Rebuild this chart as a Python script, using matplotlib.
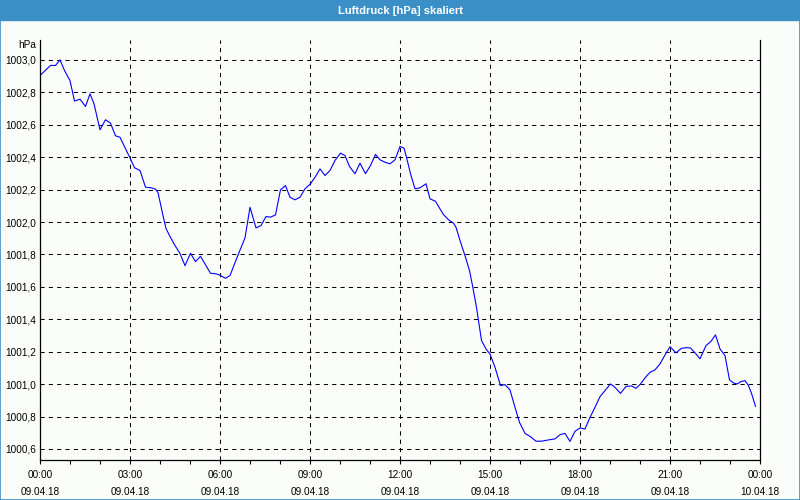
import numpy as np
import pandas as pd
import matplotlib
matplotlib.use("Agg")
from matplotlib import pyplot as plt
from matplotlib.patches import Rectangle
from matplotlib.lines import Line2D

plt.rcParams['font.family'] = ['Liberation Sans', 'DejaVu Sans']

title = "Luftdruck [hPa] skaliert"
unit = "hPa"
start = pd.Timestamp("2018-04-09 00:00")

# minutes after 09.04.18 00:00
minutes = [0, 21, 31, 40, 49, 60, 69, 80, 91, 100, 108, 120, 131, 141, 151, 160,
           171, 180, 189, 200, 211, 223, 231, 236, 246, 252, 260, 270, 280, 290,
           301, 311, 321, 332, 341, 353, 361, 371, 380, 397, 410, 420, 432, 442,
           452, 461, 471, 481, 491, 500, 510, 520, 530, 541, 551, 560, 570, 580,
           590, 601, 610, 619, 630, 640, 651, 661, 671, 680, 690, 700, 710, 720,
           728, 733, 741, 750, 760, 772, 780, 791, 800, 807, 817, 827, 832, 840,
           850, 859, 865, 873, 879, 883, 892, 900, 910, 921, 930, 940, 950, 959,
           970, 981, 992, 1003, 1017, 1030, 1040, 1050, 1060, 1070, 1080, 1090,
           1100, 1110, 1120, 1130, 1141, 1150, 1161, 1172, 1183, 1192, 1201, 1211,
           1220, 1230, 1240, 1250, 1260, 1272, 1283, 1293, 1301, 1312, 1320, 1332,
           1342, 1351, 1360, 1370, 1379, 1387, 1395, 1401, 1410, 1417, 1423, 1431]

pressure = [1002.904, 1002.966, 1002.966, 1003.000, 1002.935, 1002.873, 1002.746,
            1002.758, 1002.713, 1002.791, 1002.730, 1002.569, 1002.631, 1002.610,
            1002.532, 1002.523, 1002.452, 1002.396, 1002.335, 1002.318, 1002.215,
            1002.211, 1002.202, 1002.182, 1002.040, 1001.960, 1001.911, 1001.855,
            1001.806, 1001.731, 1001.807, 1001.756, 1001.789, 1001.731, 1001.684,
            1001.680, 1001.670, 1001.653, 1001.670, 1001.804, 1001.902, 1002.091,
            1001.964, 1001.978, 1002.034, 1002.030, 1002.044, 1002.199, 1002.225,
            1002.153, 1002.137, 1002.153, 1002.205, 1002.236, 1002.281, 1002.328,
            1002.287, 1002.318, 1002.380, 1002.425, 1002.410, 1002.343, 1002.298,
            1002.363, 1002.298, 1002.349, 1002.417, 1002.384, 1002.369, 1002.359,
            1002.384, 1002.466, 1002.456, 1002.400, 1002.298, 1002.205, 1002.211,
            1002.236, 1002.143, 1002.128, 1002.081, 1002.046, 1002.014, 1001.993,
            1001.968, 1001.886, 1001.793, 1001.701, 1001.608, 1001.474, 1001.351,
            1001.269, 1001.217, 1001.186, 1001.104, 1000.991, 1000.997, 1000.964,
            1000.857, 1000.764, 1000.696, 1000.676, 1000.648, 1000.648, 1000.656,
            1000.662, 1000.688, 1000.696, 1000.647, 1000.709, 1000.730, 1000.723,
            1000.795, 1000.857, 1000.923, 1000.960, 1001.001, 1000.980, 1000.943,
            1000.986, 1000.989, 1000.974, 1001.001, 1001.042, 1001.073, 1001.088,
            1001.125, 1001.180, 1001.231, 1001.193, 1001.221, 1001.225, 1001.223,
            1001.186, 1001.156, 1001.238, 1001.264, 1001.304, 1001.217, 1001.176,
            1001.026, 1001.007, 1001.001, 1001.015, 1001.022, 1000.991, 1000.943,
            1000.863]

y_ticks = [1000.6, 1000.8, 1001.0, 1001.2, 1001.4, 1001.6, 1001.8,
           1002.0, 1002.2, 1002.4, 1002.6, 1002.8, 1003.0]

times = start + pd.to_timedelta(minutes, unit="m")
major = pd.date_range(start, periods=9, freq="3h")
minor = pd.date_range(start, periods=25, freq="1h")

bg = "#fbfdfb"
frame_blue = "#3b8fc7"

fig = plt.figure(figsize=(8, 5), dpi=100, facecolor=bg)
ax = fig.add_axes([0.05, 0.08, 0.90, 0.84], facecolor=bg)

ax.plot(times, pressure, color="#0000ff", lw=0.8)

ax.set_xlim(start, start + pd.Timedelta(hours=24))
ax.set_ylim(1000.532, 1003.123)

ax.set_xticks(major)
ax.set_xticks(minor, minor=True)
ax.set_xticklabels([t.strftime("%H:%M\n%d.%m.%y") for t in major],
                   linespacing=1.85, fontsize=7.2)
ax.set_yticks(y_ticks)
ax.set_yticklabels([f"{v:.1f}".replace(".", ",") for v in y_ticks], fontsize=7.2)

ax.tick_params(axis="x", which="both", direction="out", length=3, width=0.8, pad=4)
ax.tick_params(axis="y", length=0, pad=3)

ax.grid(True, which="major", color="black", lw=0.75, linestyle=(0, (4, 4)))

for s in ["left", "bottom", "right"]:
    ax.spines[s].set_color("black")
    ax.spines[s].set_linewidth(0.9)
ax.spines["top"].set_visible(False)

fig.text(36 / 800, 1 - 44.5 / 500, unit, ha="right", va="center", fontsize=7.2)

# title bar and window frame
fig.patches.append(Rectangle((0, 0.96), 1, 0.04, transform=fig.transFigure,
                             color=frame_blue, zorder=0))
fig.text(0.5, 0.979, title, ha="center", va="center", color="white",
         fontsize=8, fontweight="bold")
for xs, ys in [([0.0006, 0.0006], [0, 1]), ([0.9994, 0.9994], [0, 1]),
               ([0, 1], [0.001, 0.001])]:
    fig.lines.append(Line2D(xs, ys, transform=fig.transFigure,
                            color=frame_blue, lw=1.2))

fig.savefig("out.png", dpi=100, facecolor=bg)
